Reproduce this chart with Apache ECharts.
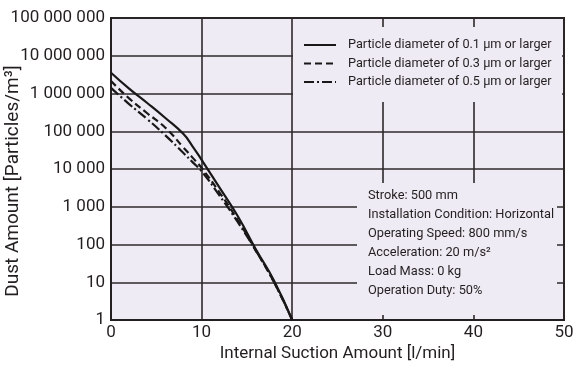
<!DOCTYPE html>
<html>
<head>
<meta charset="utf-8">
<script src="https://cdn.jsdelivr.net/npm/echarts@6/dist/echarts.min.js"></script>
<style>
html,body{margin:0;padding:0;background:#fff;}
#chart{width:574px;height:369px;}
</style>
</head>
<body>
<div id="chart"></div>
<script>
// ---- data ----
const xValues = [0, 2, 4, 6, 8, 9, 10, 12, 14, 16, 18, 20];
const dust01 = [3550000, 1350000, 560000, 224000, 84000, 40000, 17500, 3160, 560, 74, 11, 1];
const dust03 = [2140000, 740000, 300000, 124000, 37000, 20000, 10700, 2340, 440, 68, 10, 1];
const dust05 = [1410000, 525000, 209000, 78000, 26500, 15200, 8700, 1950, 390, 68, 10, 1];
const seriesNames = [
  'Particle diameter of 0.1 \u00b5m or larger',
  'Particle diameter of 0.3 \u00b5m or larger',
  'Particle diameter of 0.5 \u00b5m or larger'
];
const xTicks = [0, 10, 20, 30, 40, 50];
const yTicks = [1, 10, 100, 1000, 10000, 100000, 1000000, 10000000, 100000000];
const conditions = [
  'Stroke: 500 mm',
  'Installation Condition: Horizontal',
  'Operating Speed: 800 mm/s',
  'Acceleration: 20 m/s\u00b2',
  'Load Mass: 0 kg',
  'Operation Duty: 50%'
];
const xTitle = 'Internal Suction Amount [l/min]';
const yTitle = 'Dust Amount [Particles/m\u00b3]';

// ---- chart ----
const FONT = 'Roboto, "Liberation Sans", sans-serif';
const BG = '#efebf4';
const INK = '#231f20';
const GRIDC = '#2c282a';

function pairs(ys) { return xValues.map((x, i) => [x, ys[i]]); }
function fmt(v) { return String(Math.round(v)).replace(/\B(?=(\d{3})+(?!\d))/g, ' '); }

const chart = echarts.init(document.getElementById('chart'), null, {renderer: 'canvas'});
const lineBase = {type: 'line', symbol: 'none', smooth: 0.5, z: 3};

chart.setOption({
  animation: false,
  textStyle: {fontFamily: FONT},
  grid: {left: 111, top: 18, right: 10, bottom: 49, show: true, backgroundColor: BG,
         borderColor: INK, borderWidth: 2, containLabel: false, outerBoundsMode: 'none'},
  xAxis: {
    type: 'value', min: xTicks[0], max: xTicks[xTicks.length - 1], interval: 10,
    name: xTitle, nameLocation: 'middle', nameGap: 25, nameMoveOverlap: false,
    nameTextStyle: {fontFamily: FONT, fontSize: 17, color: INK},
    axisLine: {show: true, lineStyle: {color: INK, width: 2}},
    axisTick: {show: false},
    axisLabel: {fontFamily: FONT, fontSize: 17, color: INK, margin: 4},
    splitLine: {show: true, lineStyle: {color: GRIDC, width: 1.6}}
  },
  yAxis: {
    type: 'log', logBase: 10, min: yTicks[0], max: yTicks[yTicks.length - 1],
    name: yTitle, nameLocation: 'middle', nameGap: 88, nameRotate: 90, nameMoveOverlap: false,
    nameTextStyle: {fontFamily: FONT, fontSize: 19, color: INK, padding: [0, 24, 0, 0]},
    axisLine: {show: true, lineStyle: {color: INK, width: 2}},
    axisTick: {show: false},
    axisLabel: {fontFamily: FONT, fontSize: 17, color: INK, margin: 6, formatter: fmt},
    splitLine: {show: true, lineStyle: {color: GRIDC, width: 1.6}}
  },
  legend: {
    orient: 'vertical', left: 293, top: 36, z: 10,
    itemWidth: 32, itemHeight: 12, itemGap: 0.5, padding: [0, 0, 0, 10],
    data: seriesNames,
    itemStyle: {opacity: 0},
    textStyle: {fontFamily: FONT, fontSize: 12.7, color: INK, lineHeight: 18, padding: [0, 0, 0, 7]}
  },
  graphic: [
    {type: 'rect', z: 5, shape: {x: 293, y: 27, width: 269, height: 75}, style: {fill: BG}},
    {type: 'rect', z: 5, shape: {x: 357, y: 183, width: 200, height: 132}, style: {fill: BG}},
    {type: 'text', z: 6, left: 368, top: 186.5,
     style: {text: conditions.join('\n'), font: '12.8px ' + FONT, fill: INK, lineHeight: 19}}
  ],
  series: [
    Object.assign({}, lineBase, {name: seriesNames[0], data: pairs(dust01),
      lineStyle: {color: '#1a1718', width: 2.2, type: 'solid'}, itemStyle: {color: '#1a1718'}}),
    Object.assign({}, lineBase, {name: seriesNames[1], data: pairs(dust03),
      lineStyle: {color: '#1a1718', width: 2.2, type: [7, 4]}, itemStyle: {color: '#1a1718'}}),
    Object.assign({}, lineBase, {name: seriesNames[2], data: pairs(dust05),
      lineStyle: {color: '#1a1718', width: 2.2, type: [10, 3, 2, 3]}, itemStyle: {color: '#1a1718'}})
  ]
});
</script>
</body>
</html>
